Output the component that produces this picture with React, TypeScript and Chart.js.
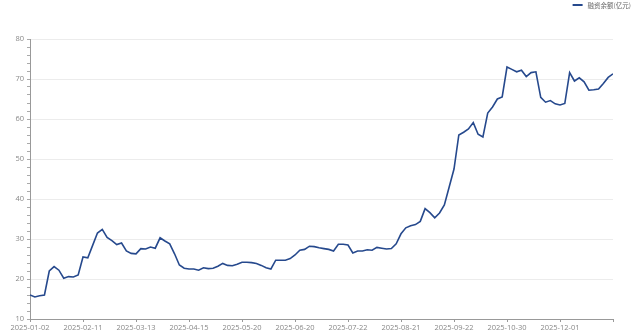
import React, { useEffect, useRef } from "react";
import { Chart, registerables } from "chart.js";

Chart.register(...registerables);

const seriesName = "融资余额(亿元)";
const tickLabels = [
  "2025-01-02", "2025-02-11", "2025-03-13", "2025-04-15", "2025-05-20", "2025-06-20",
  "2025-07-22", "2025-08-21", "2025-09-22", "2025-10-30", "2025-12-01",
];
const tickIndex = [0, 11, 22, 33, 44, 55, 66, 77, 88, 99, 110];
const balance = [
  16.0, 15.5, 15.8, 16.0, 22.0, 23.1, 22.2, 20.2, 20.6, 20.5,
  21.0, 25.5, 25.3, 28.4, 31.5, 32.4, 30.4, 29.6, 28.6, 29.0,
  27.0, 26.4, 26.3, 27.6, 27.5, 28.0, 27.7, 30.3, 29.5, 28.8,
  26.3, 23.5, 22.7, 22.5, 22.5, 22.2, 22.8, 22.6, 22.7, 23.2,
  23.9, 23.4, 23.3, 23.7, 24.2, 24.2, 24.1, 23.9, 23.4, 22.8,
  22.5, 24.7, 24.7, 24.7, 25.1, 26.0, 27.2, 27.4, 28.2, 28.1,
  27.8, 27.6, 27.4, 27.0, 28.7, 28.7, 28.5, 26.5, 27.0, 27.0,
  27.3, 27.2, 27.9, 27.7, 27.5, 27.6, 28.8, 31.3, 32.8, 33.3,
  33.6, 34.4, 37.6, 36.6, 35.3, 36.5, 38.5, 43.0, 47.5, 56.0,
  56.7, 57.5, 59.1, 56.2, 55.5, 61.5, 63.0, 65.0, 65.5, 73.0,
  72.4, 71.8, 72.2, 70.6, 71.6, 71.8, 65.4, 64.2, 64.6, 63.8,
  63.5, 63.9, 71.6, 69.5, 70.3, 69.3, 67.2, 67.3, 67.5, 68.9,
  70.4, 71.3,
];
const yMin = 10;
const yMax = 80;

const LINE_COLOR = "#26498d";
const FONT = "'Open Sans', 'Noto Sans CJK SC', sans-serif";

const legendPlugin = {
  id: "customLegend",
  afterDraw(chart: any) {
    const ctx = chart.ctx;
    ctx.save();
    ctx.font = "6.5px 'Noto Sans CJK SC', sans-serif";
    const right = 631;
    const w = ctx.measureText(seriesName).width;
    const textLeft = right - w;
    ctx.strokeStyle = LINE_COLOR;
    ctx.lineWidth = 2;
    ctx.beginPath();
    ctx.moveTo(textLeft - 15, 5);
    ctx.lineTo(textLeft - 5, 5);
    ctx.stroke();
    ctx.fillStyle = "#666";
    ctx.textBaseline = "middle";
    ctx.textAlign = "left";
    ctx.fillText(seriesName, textLeft, 5.5);
    ctx.restore();
  },
};

export default function App() {
  const ref = useRef<HTMLCanvasElement | null>(null);
  useEffect(() => {
    document.body.style.margin = "0";
    if (!ref.current) return;
    const data = balance.map((v, i) => ({ x: i, y: v }));
    const lastIdx = balance.length - 1;
    const chart = new Chart(ref.current, {
      type: "line",
      data: {
        datasets: [
          {
            label: seriesName,
            data,
            borderColor: LINE_COLOR,
            backgroundColor: LINE_COLOR,
            borderWidth: 1.6,
            pointRadius: 0,
            tension: 0,
          },
        ],
      },
      plugins: [legendPlugin],
      options: {
        animation: false,
        responsive: true,
        maintainAspectRatio: false,
        layout: { padding: { top: 39, right: 27, left: 0, bottom: 0 } },
        plugins: { legend: { display: false }, tooltip: { enabled: false } },
        scales: {
          x: {
            type: "linear",
            min: 0,
            max: lastIdx,
            afterBuildTicks(scale: any) {
              const t = tickIndex.map((v) => ({ value: v }));
              t.push({ value: lastIdx });
              scale.ticks = t;
            },
            afterFit(scale: any) {
              scale.height = 15;
            },
            ticks: {
              autoSkip: false,
              maxRotation: 0,
              padding: 1,
              color: "#888",
              font: { size: 7.5, family: FONT },
              callback(value: any) {
                const k = tickIndex.indexOf(Number(value));
                return k >= 0 ? tickLabels[k] : "";
              },
            },
            grid: { drawOnChartArea: false, tickLength: 3, tickColor: "#999" },
            border: { display: true, color: "#999" },
          },
          y: {
            min: yMin,
            max: yMax,
            afterFit(scale: any) {
              scale.width = 30;
            },
            ticks: {
              stepSize: 2,
              autoSkip: false,
              padding: 3,
              color: "#888",
              font: { size: 7.5, family: FONT },
              callback(value: any) {
                return Number(value) % 10 === 0 ? String(value) : "";
              },
            },
            grid: {
              color: (ctx: any) =>
                ctx.tick && ctx.tick.value % 10 === 0 ? "#ececec" : "rgba(0,0,0,0)",
              tickColor: "#aaa",
              tickLength: 3,
            },
            border: { display: true, color: "#999" },
          },
        },
      },
    });
    return () => chart.destroy();
  }, []);
  return (
    <div style={{ position: "fixed", left: 0, top: 0, width: 640, height: 334 }}>
      <canvas ref={ref} />
    </div>
  );
}
